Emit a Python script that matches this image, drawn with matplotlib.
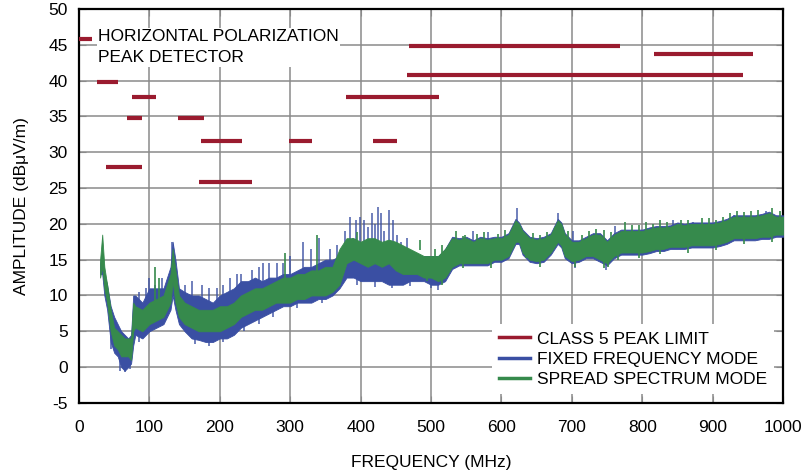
import matplotlib
matplotlib.use("Agg")
import matplotlib.pyplot as plt
from matplotlib.lines import Line2D

plt.rcParams['font.family'] = ['Liberation Sans', 'DejaVu Sans']
plt.rcParams['axes.unicode_minus'] = False

# class 5 peak limit segments (MHz, dBuV/m)
lim_start = [0, 25, 76, 68, 141, 174, 298, 418, 39, 171, 379, 469, 466, 817]
lim_stop = [18, 56, 110, 89, 177, 232, 331, 451, 89, 246, 511, 768, 943, 958]
lim_level = [45.8, 39.8, 37.7, 34.8, 34.8, 31.6, 31.6, 31.6, 27.9, 25.8, 37.7, 44.9, 40.8, 43.7]

freq = [30, 33, 36, 40, 45, 50, 55, 60, 65, 70,
        74, 77, 80, 90, 100, 110, 120, 130, 133, 137,
        142, 150, 160, 170, 180, 190, 200, 210, 220, 230,
        240, 250, 260, 270, 280, 290, 300, 310, 320, 330,
        340, 350, 360, 370, 380, 390, 400, 410, 420, 430,
        440, 450, 460, 470, 480, 490, 500, 510, 520, 530,
        540, 550, 560, 570, 580, 590, 600, 610, 620, 625,
        630, 640, 650, 660, 670, 680, 685, 690, 700, 710,
        720, 730, 740, 750, 760, 770, 780, 790, 800, 810,
        820, 830, 840, 850, 860, 870, 880, 890, 900, 910,
        920, 930, 940, 950, 960, 970, 980, 990, 1000]

green_lo = [12.5, 14, 11, 9, 5, 3, 2.5, 1.5, 1.5, 1.5,
            1, 5, 5.5, 5, 6, 6.5, 7, 9, 12, 9,
            7, 6, 5.5, 5, 5, 5, 5, 5.5, 6, 7,
            7.5, 8, 8, 8.5, 9, 9, 9, 9.5, 9.5, 10,
            10, 10, 10.5, 11.5, 14.5, 15, 14.5, 14, 14.5, 14,
            14.5, 13.5, 13, 13, 13, 12.5, 12.5, 12, 12.5, 14,
            14.5, 14.5, 14.5, 14.5, 14.5, 15, 15, 15.5, 17.5, 17.5,
            16, 15, 14.8, 15, 16, 17.5, 17, 15.5, 14.8, 15,
            15.5, 15.5, 15, 14.5, 15.5, 16, 16, 16, 16, 16.2,
            16.5, 16.5, 16.8, 16.8, 16.8, 17, 17, 17, 17, 17.2,
            17.5, 18, 18, 18, 18, 18.2, 18.2, 18.5, 18.5]
green_hi = [15, 18.5, 14, 11.5, 8, 5.5, 5, 4.5, 4, 4,
            4, 9, 8.5, 8, 9, 9.5, 10, 13, 16.5, 13.5,
            10, 9, 8.5, 8, 8, 8, 8.5, 8.5, 9, 10,
            10.5, 11, 11, 11.5, 12, 12.5, 12.5, 13, 13, 13.5,
            13.5, 14, 14, 16.5, 18, 18, 17.5, 18, 18, 17.5,
            17.8, 17.5, 17, 16.5, 16, 15.5, 15.5, 15.5, 16.5, 18,
            17.8, 18, 17.5, 18, 17.8, 18, 18, 18.5, 20.5, 20,
            19, 18, 17.8, 18, 18.5, 20.5, 20, 18.5, 17.5, 17.5,
            18, 18.5, 18.5, 17.5, 18.5, 19, 19, 19, 19, 19.3,
            19.5, 19.5, 19.6, 20, 19.8, 20, 20, 20, 20, 20.2,
            20.5, 21, 21, 21, 21, 21.2, 21.5, 21, 21]
blue_lo = [13, 13, 10, 8, 3.5, 2, 1.5, 0, -0.5, 0,
           0.5, 3, 4.5, 4, 5, 5.5, 6, 8, 10, 8,
           6, 5, 4, 3.8, 3.5, 3.5, 4, 4, 4.5, 5.5,
           6, 6.5, 7, 7.5, 8, 8.5, 8.5, 9, 9, 9,
           9.5, 9.5, 10, 11, 12.5, 12.5, 12, 12, 12, 12,
           11.5, 11.5, 11.5, 12, 12, 12, 11.5, 11.5, 12, 13.7,
           14.2, 14.2, 14.2, 14.2, 14.2, 14.7, 14.7, 15.2, 17.2, 17.2,
           15.7, 14.7, 14.5, 14.7, 15.7, 17.2, 16.7, 15.2, 14.5, 14.7,
           15.2, 15.2, 14.7, 14.2, 15.2, 15.7, 15.7, 15.7, 15.7, 15.9,
           16.2, 16.2, 16.5, 16.5, 16.5, 16.7, 16.7, 16.7, 16.7, 16.9,
           17.2, 17.7, 17.7, 17.7, 17.7, 17.9, 17.9, 18.2, 18.2]
blue_hi = [14.5, 16, 13, 11.5, 8.5, 7, 6, 5, 4.5, 4,
           4.5, 10, 10, 9, 11, 11, 11, 14, 17.5, 15,
           11, 10.5, 10, 10, 9.5, 9, 10, 10.5, 11, 12,
           12, 12.5, 12, 12.5, 12.5, 13, 13, 13.5, 14, 14,
           14.5, 15, 15, 15.5, 16.5, 16, 15.5, 15.5, 15.5, 15.5,
           15, 14.5, 14, 14.5, 15, 15.5, 15.5, 15.5, 16.5, 18.2,
           18, 18.2, 17.7, 18.2, 18, 18.2, 18.2, 18.7, 20.7, 20.2,
           19.2, 18.2, 18, 18.2, 18.7, 20.7, 20.2, 18.7, 17.7, 17.7,
           18.2, 18.7, 18.7, 17.7, 18.7, 19.2, 19.2, 19.2, 19.2, 19.5,
           19.7, 19.7, 19.8, 20.2, 20, 20.2, 20.2, 20.2, 20.2, 20.4,
           20.7, 21.2, 21.2, 21.2, 21.2, 21.4, 21.7, 21.2, 21.2]

# isolated spikes and dips sticking out of the traces (MHz, from, to)
blue_spike_f = [100, 108, 118, 132, 160, 175, 196, 224, 246, 262, 281, 300, 318, 330,
                341, 356, 366, 378, 385, 389, 394, 399, 405, 410, 416, 421, 425, 429,
                433, 440, 446, 452, 458, 466, 560, 581, 622, 681, 702, 762, 843, 872,
                930, 976,
                85, 95, 150, 185, 205, 215, 230, 255, 270, 290,
                45, 58, 66, 72, 85, 165, 185, 205, 235, 255, 275, 310, 345, 395,
                420, 445, 470, 500, 510, 705, 748]
blue_spike_from = [7, 7, 8, 12, 7, 6, 6, 8, 9, 9.5, 10, 10.5, 11, 11,
                   11.5, 12, 12.5, 14, 14, 14, 14, 14, 14, 14, 14, 14, 14, 14,
                   14, 13.5, 13.5, 13, 13, 13, 16, 16, 19, 19, 16, 17, 18, 18,
                   19, 19.5,
                   8, 8, 9, 8, 8, 9, 10, 11, 11, 12,
                   5, 2, 1, 1, 5, 5, 5, 5, 6.5, 7.5, 8.5, 9.5, 10.5, 13,
                   13, 12.5, 12.5, 12.5, 12.5, 15, 15]
blue_spike_to = [12.5, 11.5, 12.5, 17.5, 12, 11.5, 11, 13, 13.5, 14.5, 14.5, 15.5, 17.5, 16.5,
                 18, 16.5, 17, 19, 21, 18, 20.5, 21, 20.5, 19.5, 21.5, 20, 22.4, 21.5,
                 19, 22, 20.5, 18.5, 17.5, 18, 19, 18.8, 22.2, 21.5, 19, 19.7, 20.5, 20.3,
                 21.3, 21.8,
                 10.5, 11, 11.5, 11, 11.5, 12.5, 13, 14, 14.5, 14.5,
                 2.5, -0.5, -0.7, -0.3, 3.5, 3.2, 3, 3.5, 5, 6, 7, 8.3, 9, 11.5,
                 11.2, 11, 11.3, 11, 10.8, 13.8, 13.5]

green_spike_f = [108, 113, 292, 338, 395, 545,
                 485, 505, 515, 535, 548, 566, 575, 595, 605, 615, 645, 655, 665, 676,
                 695, 715, 725, 735, 745, 755, 775, 785, 795, 805, 815, 825, 835, 855,
                 865, 885, 895, 905, 915, 925, 935, 945, 955, 965, 985, 995,
                 495, 515, 545, 585, 635, 655, 705, 745, 752, 765, 795, 825, 865, 905,
                 945, 985]
green_spike_from = [8, 8, 11, 12, 16, 16,
                    16.3, 15, 15.5, 17.5, 17, 17.1, 17.3, 17.1, 17.7, 17.5, 17.2, 17, 17.4, 18,
                    17.5, 17, 17.5, 17.8, 17.6, 17.3, 18.7, 18.3, 18.3, 18.8, 18.5, 19, 18.8, 19.1,
                    19, 19.3, 19.3, 19.1, 19.5, 20, 20.3, 20.1, 20.3, 20.4, 20.7, 20.3,
                    13.5, 13, 15.3, 15.3, 16.7, 15.5, 15.5, 15.3, 15.5, 16.5, 16.8, 17.3, 17.5, 17.8,
                    18.7, 19]
green_spike_to = [14, 12.5, 16, 18.5, 18.8, 18.3,
                  17.8, 16.5, 17, 19, 18.5, 18.6, 18.8, 18.6, 19.2, 19, 18.7, 18.5, 18.9, 19.5,
                  19, 18.5, 19, 19.3, 19.1, 18.8, 20.2, 19.8, 19.8, 20.3, 20, 20.5, 20.3, 20.6,
                  20.5, 20.8, 20.8, 20.6, 21, 21.5, 21.8, 21.6, 21.8, 21.9, 22.2, 21.8,
                  12, 11.5, 13.8, 13.8, 15.2, 14, 14, 13.8, 14, 15, 15.3, 15.8, 16, 16.3,
                  17.2, 17.5]

red = '#9a1b2f'
blue = '#3a4fa3'
green = '#368a4c'

fig = plt.figure(figsize=(8.01, 4.74), dpi=100)
ax = fig.add_axes([0.0986, 0.150, 0.879, 0.831])

ax.fill_between(freq, blue_lo, blue_hi, color=blue, lw=0.6, zorder=3)
ax.vlines(blue_spike_f, blue_spike_from, blue_spike_to, color=blue, lw=1.2, alpha=0.85, zorder=3)
ax.fill_between(freq, green_lo, green_hi, color=green, lw=0.6, zorder=4)
ax.vlines(green_spike_f, green_spike_from, green_spike_to, color=green, lw=1.2, zorder=4)
ax.hlines(lim_level, lim_start, lim_stop, color=red, lw=3, zorder=5)

ax.set_xlim(0, 1000)
ax.set_ylim(-5, 50)
ax.set_xticks(range(0, 1001, 100))
ax.set_yticks(range(-5, 51, 5))
ax.grid(True, color='#8a8a8a', lw=1.1)
ax.set_axisbelow(True)
ax.tick_params(direction='in', top=True, right=True, labelsize=12.5, length=5, color='#8a8a8a')
ax.tick_params(axis='x', pad=12)
ax.tick_params(axis='y', pad=8)
for s in ax.spines.values():
    s.set_linewidth(1.6)

ax.set_xlabel('FREQUENCY (MHz)', fontsize=12.5, labelpad=15)
ax.set_ylabel('AMPLITUDE (dBμV/m)', fontsize=12.5, labelpad=14)

ax.text(0.027, 0.948, 'HORIZONTAL POLARIZATION\nPEAK DETECTOR', transform=ax.transAxes,
        fontsize=12.5, va='top', ha='left', linespacing=1.5,
        bbox=dict(facecolor='white', edgecolor='none', pad=1), zorder=6)

handles = [Line2D([], [], color=red, lw=2.5),
           Line2D([], [], color=blue, lw=2.5),
           Line2D([], [], color=green, lw=2.5)]
leg = ax.legend(handles, ['CLASS 5 PEAK LIMIT', 'FIXED FREQUENCY MODE', 'SPREAD SPECTRUM MODE'],
                loc='lower right', fontsize=12.5, frameon=True, framealpha=1, edgecolor='none',
                fancybox=False, handlelength=1.8, handletextpad=0.4, labelspacing=0.3,
                borderaxespad=0.5)
leg.set_zorder(7)

fig.savefig('out.png', dpi=100)
